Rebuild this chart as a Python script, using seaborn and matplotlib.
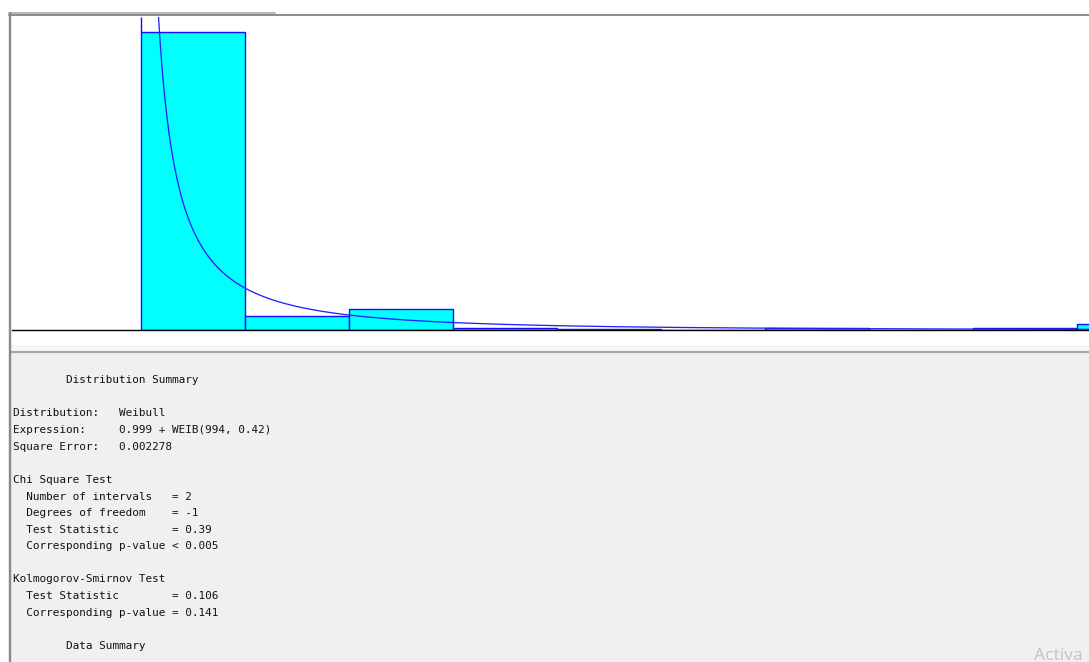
import numpy as np
import matplotlib
matplotlib.use("Agg")
import matplotlib.pyplot as plt
from matplotlib.lines import Line2D
from matplotlib.patches import Rectangle
import seaborn as sns

# ---- fitted distribution (Weibull with offset) ----
weib_location = 0.999
weib_scale = 994
weib_shape = 0.42
square_error = 0.002278

# ---- histogram: bin edges and relative frequencies ----
bin_edges = [1, 4345, 8689, 13033, 17377, 21721, 26065, 30409, 34753, 39097, 43441]
rel_freq = [0.864, 0.041, 0.060, 0.005, 0.004, 0.0, 0.006, 0.0, 0.007, 0.0165]

# ---- fit statistics ----
chi_intervals = 2
chi_dof = -1
chi_stat = 0.39
chi_p = "< 0.005"
ks_stat = 0.106
ks_p = "= 0.141"

W, H = 1089, 662
DPI = 100
PX = 72 / DPI  # one pixel in points

sns.set_style("white")
plt.rcParams["font.family"] = ["DejaVu Sans"]

fig = plt.figure(figsize=(W / DPI, H / DPI), dpi=DPI)
fig.patch.set_facecolor("white")


def fx(px):
    return px / W


def fy(py):
    return 1 - py / H


# lower text panel
fig.patches.append(Rectangle((fx(11), 0), fx(W - 11), fy(352), transform=fig.transFigure,
                             facecolor="#f0f0f0", edgecolor="none", zorder=0))
fig.patches.append(Rectangle((fx(11), fy(350)), fx(W - 11), fy(345) - fy(350),
                             transform=fig.transFigure, facecolor="#f6f6f6",
                             edgecolor="none", zorder=0))
# separator and window frame lines
fig.lines.append(Line2D([fx(11), 1], [fy(351.5), fy(351.5)], transform=fig.transFigure,
                        color="#a5a5a5", linewidth=2.2 * PX, zorder=3))
fig.lines.append(Line2D([fx(9), fx(275)], [fy(13), fy(13)], transform=fig.transFigure,
                        color="#a8a8a8", linewidth=1.6 * PX, zorder=3))
fig.lines.append(Line2D([fx(9), 1], [fy(15.2), fy(15.2)], transform=fig.transFigure,
                        color="#8e8e8e", linewidth=2.0 * PX, zorder=3))
fig.lines.append(Line2D([fx(10.2), fx(10.2)], [fy(12.5), 0], transform=fig.transFigure,
                        color="#8a8a8a", linewidth=2.4 * PX, zorder=3))

# histogram axes
ax_left, ax_right, ax_top, ax_bottom = 12, W, 16.5, 330
ax = fig.add_axes([fx(ax_left), fy(ax_bottom), fx(ax_right - ax_left), (ax_bottom - ax_top) / H])
ax.set_facecolor("white")

bin_width = bin_edges[1] - bin_edges[0]
centers = [(a + b) / 2 for a, b in zip(bin_edges[:-1], bin_edges[1:])]

sns.histplot(x=centers, weights=rel_freq, bins=bin_edges, stat="count",
             color="#00ffff", edgecolor="#1010ff", linewidth=1.4 * PX,
             alpha=1, ax=ax, zorder=1)

# fitted density, scaled to the bin width
x_min = bin_edges[0] - 1.24 * bin_width
x_max = bin_edges[0] + 9.115 * bin_width
y_max = 0.910
t = np.geomspace(1.0, x_max - weib_location, 2000)
dens = (weib_shape / weib_scale) * (t / weib_scale) ** (weib_shape - 1) \
    * np.exp(-(t / weib_scale) ** weib_shape)
sns.lineplot(x=t + weib_location, y=dens * bin_width, color="#2020ff",
             linewidth=1.3 * PX, ax=ax, zorder=3, sort=False)
ax.vlines(bin_edges[0], rel_freq[0], y_max, color="#1010ff", linewidth=1.4 * PX, zorder=3)

ax.set_xlim(x_min, x_max)
ax.set_ylim(0, y_max)
ax.set_xlabel("")
ax.set_ylabel("")
ax.set_xticks([])
ax.set_yticks([])
for side in ("top", "left", "right"):
    ax.spines[side].set_visible(False)
ax.spines["bottom"].set_color("black")
ax.spines["bottom"].set_linewidth(1.4 * PX)
ax.spines["bottom"].set_zorder(4)

# summary text
lines = [
    "        Distribution Summary",
    "",
    "Distribution:   Weibull",
    f"Expression:     {weib_location} + WEIB({weib_scale}, {weib_shape})",
    f"Square Error:   {square_error:.6f}",
    "",
    "Chi Square Test",
    f"  Number of intervals   = {chi_intervals}",
    f"  Degrees of freedom    = {chi_dof}",
    f"  Test Statistic        = {chi_stat}",
    f"  Corresponding p-value {chi_p}",
    "",
    "Kolmogorov-Smirnov Test",
    f"  Test Statistic        = {ks_stat}",
    f"  Corresponding p-value {ks_p}",
    "",
    "        Data Summary",
]
base0 = 383.3
step = 16.6
for i, s in enumerate(lines):
    if s:
        fig.text(fx(13.3), fy(base0 + i * step), s, family="DejaVu Sans Mono",
                 fontsize=11 * PX, color="#111111", va="baseline", ha="left")

fig.text(fx(1034), fy(660), "Activa", family="Open Sans", fontsize=17.5 * PX,
         color="#c4c4c4", va="baseline", ha="left")

fig.savefig("out.png", dpi=DPI)
